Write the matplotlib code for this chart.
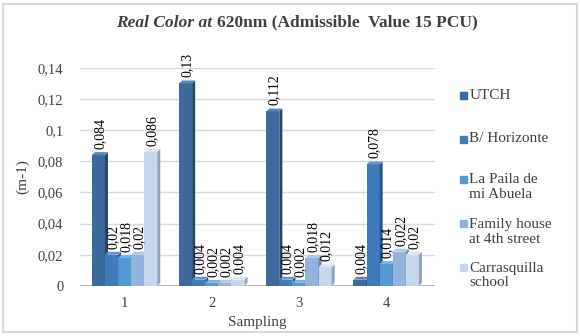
import matplotlib

matplotlib.use("Agg")
import matplotlib.pyplot as plt
import numpy as np
from matplotlib.patches import Polygon, Rectangle

plt.rcParams["font.family"] = ["Liberation Serif", "DejaVu Serif"]

SAMPLINGS = ["1", "2", "3", "4"]
SERIES = [
    "UTCH",
    "B/ Horizonte",
    "La Paila de\nmi Abuela",
    "Family house\nat 4th street",
    "Carrasquilla\nschool",
]
UTCH = [0.084, 0.13, 0.112, 0.004]
HORIZONTE = [0.02, 0.004, 0.004, 0.078]
PAILA = [0.018, 0.002, 0.002, 0.014]
FAMILY = [0.02, 0.002, 0.018, 0.022]
CARRASQUILLA = [0.086, 0.004, 0.012, 0.02]
VALUES = [UTCH, HORIZONTE, PAILA, FAMILY, CARRASQUILLA]
Y_TICKS = [0, 0.02, 0.04, 0.06, 0.08, 0.1, 0.12, 0.14]

FRONT = ["#3B6A9B", "#3F7BBA", "#5297D6", "#92B3DB", "#C6D7EE"]
SIDE = ["#22466C", "#2A5786", "#336D9E", "#6A89AE", "#8FA3BE"]
TOP = ["#5A87B5", "#6496CC", "#7AB0E2", "#B0C8E6", "#DCE6F4"]


def fmt(v: float) -> str:
    return f"{v:g}".replace(".", ",")


def main() -> None:
    fig = plt.figure(figsize=(5.8, 3.36), dpi=100)
    ax = fig.add_axes([0.138, 0.149, 0.612, 0.649])

    x = np.arange(1, len(SAMPLINGS) + 1)
    width = 0.15
    dx, dy = 0.035, 0.0019

    for y in Y_TICKS:
        ax.axhline(y, color="#D9D9D9", lw=1.0, zorder=0)
    ax.axhline(0, color="#A6A6A6", lw=1.2, zorder=0)

    for i, vals in enumerate(VALUES):
        xs = x + (i - 2) * width
        bars = ax.bar(xs, vals, width=width, color=FRONT[i], edgecolor="none",
                      zorder=2 + i, label=SERIES[i])
        for b, v in zip(bars, vals):
            x0 = b.get_x()
            x1 = x0 + b.get_width()
            side = Polygon([(x1, 0), (x1 + dx, dy), (x1 + dx, v + dy), (x1, v)],
                           closed=True, color=SIDE[i], lw=0, zorder=2 + i)
            top = Polygon([(x0, v), (x0 + dx, v + dy), (x1 + dx, v + dy), (x1, v)],
                          closed=True, color=TOP[i], lw=0, zorder=2 + i)
            ax.add_patch(side)
            ax.add_patch(top)
            ax.text(b.get_x() + b.get_width() / 2 + dx / 2, v + dy + 0.002, fmt(v),
                    rotation=90, ha="center", va="bottom", fontsize=10,
                    color="#000000", zorder=10, clip_on=False)

    ax.set_xlim(0.49, 4.56)
    ax.set_ylim(0, 0.14)
    ax.set_yticks(Y_TICKS)
    ax.set_yticklabels([fmt(v) for v in Y_TICKS], fontsize=10.5, color="#404040")
    ax.set_xticks(x)
    ax.set_xticklabels(SAMPLINGS, fontsize=10.5, color="#404040")
    ax.tick_params(length=0, pad=8)
    ax.tick_params(axis="y", pad=12)
    for s in ax.spines.values():
        s.set_visible(False)
    ax.set_ylabel("(m-1)", fontsize=11, color="#404040", labelpad=6)
    ax.set_xlabel("Sampling", fontsize=11, color="#404040", labelpad=4)

    # title in two styles
    fig.text(0.366, 0.932, "Real Color at", fontsize=12.5, style="italic",
             fontweight="bold", color="#404040", ha="right", va="center")
    fig.text(0.374, 0.932, "620nm (Admissible  Value 15 PCU)", fontsize=12.5,
             fontweight="bold", color="#404040", ha="left", va="center")

    # legend
    legend_y = [0.717, 0.587, 0.443, 0.310, 0.180]
    for i, name in enumerate(SERIES):
        y = legend_y[i]
        lines = name.count("\n") + 1
        top_line = y + (lines - 1) * 0.025
        fig.patches.append(Rectangle((0.793, top_line - 0.012), 0.012, 0.021,
                                     transform=fig.transFigure, color=FRONT[i]))
        fig.text(0.809, y, name, fontsize=11, color="#404040",
                 ha="left", va="center", linespacing=1.15)

    fig.patches.append(Rectangle((0.006, 0.012), 0.988, 0.976, transform=fig.transFigure,
                                 fill=False, edgecolor="#D9D9D9", lw=1.5))

    fig.savefig("out.png", dpi=100)


if __name__ == "__main__":
    main()
